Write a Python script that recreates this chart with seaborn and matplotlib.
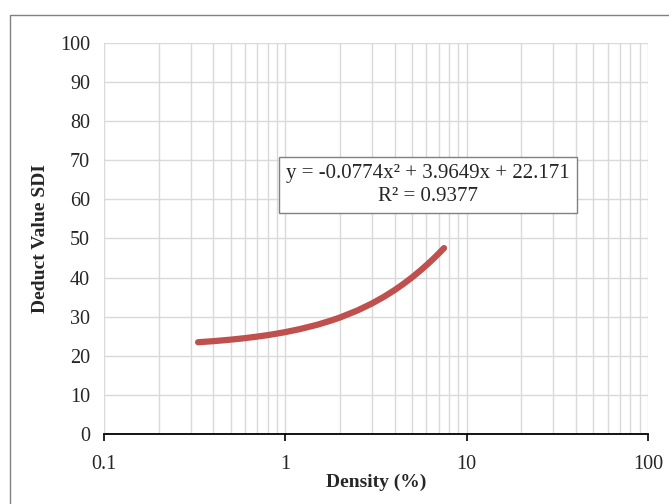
import seaborn as sns
import matplotlib.pyplot as plt
from matplotlib.patches import Rectangle
import pandas as pd

# values
density = [0.33, 0.35, 0.4, 0.45, 0.5, 0.6, 0.7, 0.8, 0.9, 1, 1.2, 1.5, 1.8, 2,
           2.5, 3, 3.5, 4, 4.5, 5, 5.5, 6, 6.5, 7, 7.5]
deduct = [23.47, 23.55, 23.74, 23.94, 24.13, 24.52, 24.91, 25.29, 25.68, 26.06, 26.82,
          27.94, 29.06, 29.79, 31.60, 33.37, 35.10, 36.79, 38.45, 40.06, 41.64,
          43.17, 44.67, 46.13, 47.55]
x_ticks = [0.1, 1, 10, 100]
x_labels = ["0.1", "1", "10", "100"]
y_ticks = list(range(0, 101, 10))
eq_text = "y = -0.0774x\u00b2 + 3.9649x + 22.171\nR\u00b2 = 0.9377"

sns.set_theme(style="white")
plt.rcParams['font.family'] = ['Liberation Serif', 'DejaVu Serif']

df = pd.DataFrame({"Density": density, "Deduct": deduct})

fig = plt.figure(figsize=(6.69, 5.04), dpi=100)
ax = fig.add_axes([0.1555, 0.1389, 0.8131, 0.7758])

# outer chart border
fig.patches.append(Rectangle((0.015, -0.05), 1.2, 1.02, transform=fig.transFigure,
                             fill=False, edgecolor="#808080", linewidth=1.0))

sns.lineplot(data=df, x="Density", y="Deduct", ax=ax, color="#C0504D",
             linewidth=4.5, solid_capstyle="round", zorder=3)

ax.set_xscale("log")
ax.set_xlim(0.1, 100)
ax.set_ylim(0, 100)
ax.set_xticks(x_ticks)
ax.set_xticklabels(x_labels)
ax.set_yticks(y_ticks)
ax.set_yticklabels([str(v) for v in y_ticks])

ax.grid(True, which="major", axis="both", color="#D9D9D9", linewidth=1.0)
ax.grid(True, which="minor", axis="x", color="#D9D9D9", linewidth=1.0)
ax.set_axisbelow(True)

for side in ["top", "right", "left"]:
    ax.spines[side].set_visible(False)
ax.spines["bottom"].set_color("black")
ax.spines["bottom"].set_linewidth(1.3)

ax.tick_params(axis="x", which="major", direction="out", length=5, width=1.2,
               color="black", labelsize=14.5, pad=10, bottom=True)
ax.tick_params(axis="x", which="minor", length=0)
ax.tick_params(axis="y", length=0, labelsize=14.5, pad=10)

ax.set_xlabel("Density (%)", fontsize=14, fontweight="bold", labelpad=0)
ax.set_ylabel("Deduct Value SDI", fontsize=14, fontweight="bold", labelpad=8)

ax.text(0.596, 0.637, eq_text, transform=ax.transAxes, ha="center", va="center",
        fontsize=15, linespacing=1.3,
        bbox=dict(boxstyle="square,pad=0.35", facecolor="white", edgecolor="#808080", linewidth=1.0))

fig.savefig("out.png", dpi=100)
